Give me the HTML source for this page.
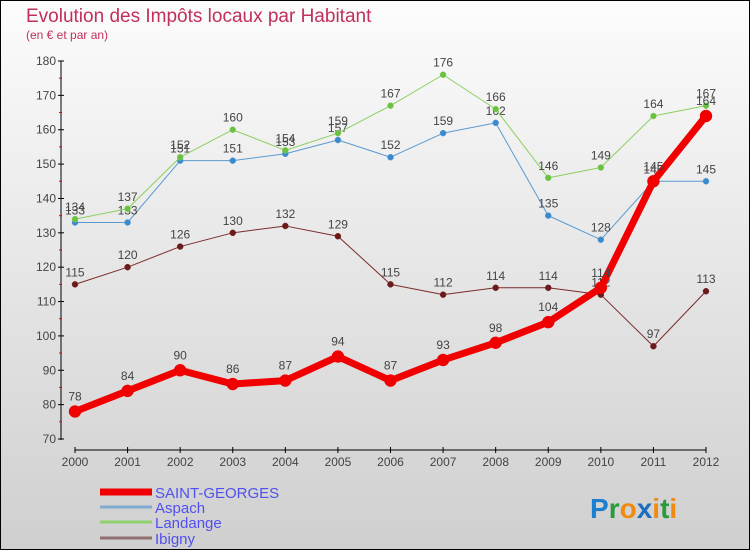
<!DOCTYPE html>
<html><head><meta charset="utf-8"><style>
body{margin:0}
#c{width:750px;height:550px;position:relative;background:linear-gradient(#fcfcfc,#cfcfcf);box-sizing:border-box;border:1px solid #000;font-family:"Liberation Sans",sans-serif;overflow:hidden}
</style></head><body>
<div id="c">
<svg id="s" width="750" height="550" style="position:absolute;left:-1px;top:-1px">
<text x="26" y="22" font-size="19" fill="#c0305a">Evolution des Impôts locaux par Habitant</text>
<text x="26" y="39" font-size="12" fill="#c0305a">(en € et par an)</text>
<text x="590" y="518" font-size="28" font-weight="bold"><tspan fill="#1a7fd0">P</tspan><tspan fill="#2a9a3a">r</tspan><tspan fill="#f08a10">o</tspan><tspan fill="#1a6fc0">x</tspan><tspan fill="#f08a10">i</tspan><tspan fill="#2a9a3a">t</tspan><tspan fill="#f08a10">i</tspan></text>
</svg>
</div>
<script>
const years=[2000,2001,2002,2003,2004,2005,2006,2007,2008,2009,2010,2011,2012];
const yTicks=[70,80,90,100,110,120,130,140,150,160,170,180];
const saintGeorges=[78,84,90,86,87,94,87,93,98,104,114,145,164];
const aspach=[133,133,151,151,153,157,152,159,162,135,128,145,145];
const landange=[134,137,152,160,154,159,167,176,166,146,149,164,167];
const ibigny=[115,120,126,130,132,129,115,112,114,114,112,97,113];
const s=document.getElementById('s');
const NS='http://www.w3.org/2000/svg';
function xs(i){return 75+i*(706-75)/12;}
function ys(v){return 439-(v-70)*(439-61)/110;}
function mk(t,a,name,parent){const e=document.createElementNS(NS,t);for(const k in a)e.setAttribute(k,a[k]);


(parent||s).appendChild(e);return e;}
mk('line',{x1:61,y1:61,x2:61,y2:440,stroke:'#000','stroke-width':1},'y-axis');
mk('line',{x1:75,y1:450,x2:706,y2:450,stroke:'#000','stroke-width':1},'x-axis');
yTicks.forEach(v=>{const y=ys(v);
mk('line',{x1:58,y1:y,x2:64,y2:y,stroke:'#000'},'y-tick');
if(v<180)mk('line',{x1:59,y1:y-17.2,x2:62,y2:y-17.2,stroke:'#e00'},'y-minor-tick');
const t=mk('text',{x:56,y:y+4,'font-size':12,fill:'#444','text-anchor':'end'},'y-tick-label');t.textContent=v;});
years.forEach((yr,i)=>{const x=xs(i);
mk('line',{x1:x,y1:447,x2:x,y2:453,stroke:'#000'},'x-tick');
const t=mk('text',{x:x,y:466,'font-size':12,fill:'#444','text-anchor':'middle'},'x-tick-label');t.textContent=yr;});
function series(d,col,w,r,name,dot){
mk('polyline',{points:d.map((v,i)=>xs(i)+','+ys(v)).join(' '),fill:'none',stroke:col,'stroke-width':w,'stroke-linejoin':'round'},name+'-line');
d.forEach((v,i)=>{mk('circle',{cx:xs(i),cy:ys(v),r:r,fill:dot,stroke:col,'stroke-width':0.5},name+'-point');
const t=mk('text',{x:xs(i),y:ys(v)-8-(r>4?3:0),'font-size':12,fill:'#444','text-anchor':'middle'},name+'-value-label');t.textContent=v;});}
series(ibigny,'#7a2a2a',1,3,'ibigny','#6a1a1a');
series(aspach,'#5a9ad0',1,3,'aspach','#3a8ad0');
series(landange,'#8ad060',1,3,'landange','#6ac040');
series(saintGeorges,'#f00000',7,6,'saint-georges','#f00000');
const leg=[['SAINT-GEORGES','#f00000',7],['Aspach','#80aad0',3],['Landange','#90d070',3],['Ibigny','#907070',3]];
const ly=[492,507,522,538];
leg.forEach((l,i)=>{mk('line',{x1:100,y1:ly[i],x2:152,y2:ly[i],stroke:l[1],'stroke-width':l[2]},'legend-swatch');
const t=mk('text',{x:155,y:ly[i]+6,'font-size':15,fill:'#5050f0'},'legend-entry');t.textContent=l[0];});
</script>
</body></html>
